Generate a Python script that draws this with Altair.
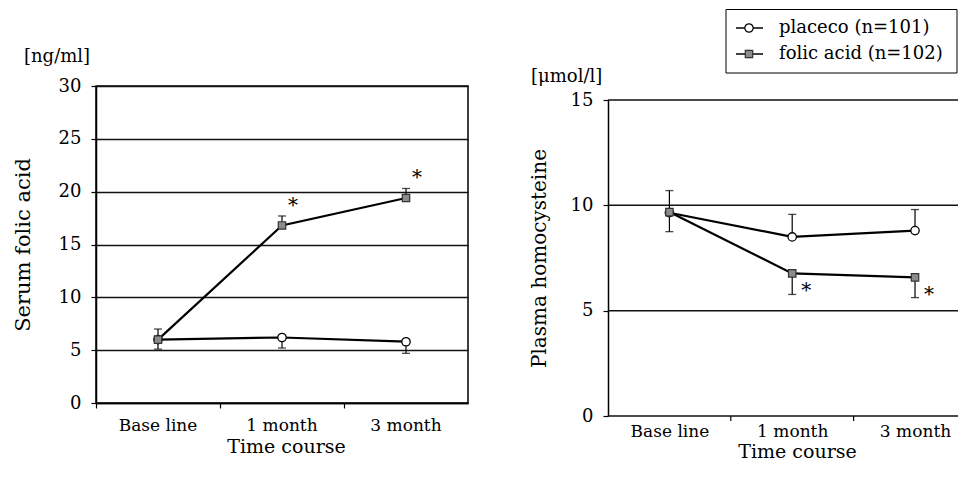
import altair as alt
import pandas as pd

SERIF = "DejaVu Serif"

TIMES = ["Base line", "1 month", "3 month"]
LEGEND_LABELS = ["placeco (n=101)", "folic acid (n=102)"]

# Serum folic acid [ng/ml]
SERUM_PLACEBO = [6.0, 6.2, 5.8]
SERUM_PLACEBO_ERR = [5.1, 5.2, 4.7]
SERUM_FOLIC = [6.0, 16.8, 19.4]
SERUM_FOLIC_ERR = [7.0, 17.7, 20.3]
SERUM_SIG = [False, True, True]
SERUM_TICKS = [0, 5, 10, 15, 20, 25, 30]

# Plasma homocysteine [umol/l]
HCY_PLACEBO = [9.65, 8.5, 8.8]
HCY_PLACEBO_ERR = [10.7, 9.57, 9.8]
HCY_FOLIC = [9.68, 6.77, 6.58]
HCY_FOLIC_ERR = [8.75, 5.77, 5.62]
HCY_SIG = [False, True, True]
HCY_TICKS = [0, 5, 10, 15]


def frame(pl, pl_err, fo, fo_err, sig):
    rows = []
    for i, t in enumerate(TIMES):
        rows.append(dict(time=t, idx=i, group="placebo", value=pl[i], err=pl_err[i], sig=False))
    for i, t in enumerate(TIMES):
        rows.append(dict(time=t, idx=i, group="folic", value=fo[i], err=fo_err[i], sig=sig[i]))
    return pd.DataFrame(rows)


one = pd.DataFrame({"label": LEGEND_LABELS})

X_LABEL_STYLE = dict(labelAngle=0, labelFont=SERIF, labelFontSize=17, labelColor="black",
                     titleFont=SERIF, titleFontSize=19, titleFontWeight="normal",
                     titleColor="black", titleBaseline="middle", titleAlign="center")


def panel(df, x, ticks, ymax, yrange, width, ytitle, y_title_x, y_title_y, y_title_size,
          unit, unit_x, unit_y, ast_dx, ast_dy, inv_x, inv_y, axis_grid):
    ysc = alt.Scale(domain=[0, ymax], nice=False, zero=True)
    if yrange is not None:
        ysc = alt.Scale(domain=[0, ymax], nice=False, zero=True, range=yrange)

    def y(field):
        return alt.Y(field, type="quantitative", scale=ysc,
                     axis=alt.Axis(values=ticks, grid=axis_grid, gridColor="#111", gridWidth=1.5,
                                   domainColor="black", domainWidth=1.5,
                                   tickColor="black", tickSize=5, tickWidth=1.2,
                                   labelFont=SERIF, labelFontSize=18, labelColor="black",
                                   labelPadding=10, title=ytitle, titleFont=SERIF,
                                   titleFontSize=y_title_size, titleFontWeight="normal",
                                   titleColor="black", titleX=y_title_x, titleY=y_title_y,
                                   titleAngle=270, titleBaseline="middle", titleAlign="center"))

    layers = []
    if not axis_grid:
        grid_df = pd.DataFrame({"tick": ticks})
        layers.append(alt.Chart(grid_df).mark_rule(color="#111", strokeWidth=1.5).encode(
            y=y("tick"), x=alt.value(0), x2=alt.value(width)))

    base = alt.Chart(df)
    errs = base.mark_rule(color="black", strokeWidth=1.2).encode(x=x, y=y("value"), y2="err:Q")
    caps = base.mark_tick(color="black", thickness=1.3, size=8, orient="horizontal").encode(
        x=x, y=y("err"))
    lines = base.mark_line(color="black", strokeWidth=2.2).encode(
        x=x, y=y("value"), detail="group:N", order="idx:Q")
    pl_pts = base.transform_filter(alt.datum.group == "placebo").mark_point(
        shape="circle", filled=True, fill="white", stroke="black", strokeWidth=1.3,
        size=70, opacity=1).encode(x=x, y=y("value"))
    fo_pts = base.transform_filter(alt.datum.group == "folic").mark_point(
        shape="square", filled=True, fill="#8c8c8c", stroke="#333", strokeWidth=1.2,
        size=55, opacity=1).encode(x=x, y=y("value"))
    stars = base.transform_filter(alt.datum.sig).mark_text(
        text="*", font=SERIF, fontSize=20, color="black", dx=ast_dx, dy=ast_dy,
        baseline="alphabetic").encode(x=x, y=y("err"))
    unit_txt = alt.Chart(one.head(1)).mark_text(
        text=unit, font=SERIF, fontSize=18, color="black", align="left",
        baseline="middle").encode(x=alt.value(unit_x), y=alt.value(unit_y))
    invisible = alt.Chart(one.head(1)).mark_rule(opacity=0, strokeWidth=1).encode(
        x=alt.value(inv_x), x2=alt.value(inv_x + 1), y=alt.value(inv_y))
    return layers + [errs, caps, lines, pl_pts, fo_pts, stars, unit_txt, invisible], y


serum = frame(SERUM_PLACEBO, SERUM_PLACEBO_ERR, SERUM_FOLIC, SERUM_FOLIC_ERR, SERUM_SIG)
hcy = frame(HCY_PLACEBO, HCY_PLACEBO_ERR, HCY_FOLIC, HCY_FOLIC_ERR, HCY_SIG)

LEFT_W, LEFT_H = 372, 317
RIGHT_W, RIGHT_H = 350, 330

# ---- left panel: band scale, ticks on band boundaries
x_left = alt.X("time:N", sort=TIMES,
               scale=alt.Scale(type="band", paddingInner=0, paddingOuter=0),
               axis=alt.Axis(title="Time course", bandPosition=0, grid=False, domain=True,
                             domainColor="black", domainWidth=1.5, tickColor="black",
                             tickSize=5, tickWidth=1.2, labelPadding=9,
                             titleX=190, titleY=43, **X_LABEL_STYLE))
left_layers, _ = panel(serum, x_left, SERUM_TICKS, 30, None, LEFT_W, "Serum folic acid", -73,
                       LEFT_H / 2, 21, "[ng/ml]", -72, -29, 11, -4, -86.5, -76.5, True)
left = alt.layer(*left_layers).properties(
    width=LEFT_W, height=LEFT_H,
    view=alt.ViewBackground(stroke="black", strokeWidth=1.5))

# ---- right panel: the plot continues past the page edge, so the time positions
# are on a position scale whose last slot is cut off at the right border
label_expr = "[" + ",".join("'" + t + "'" for t in TIMES) + "][datum.value]"
x_right = alt.X("idx:Q",
                scale=alt.Scale(domain=[-0.5, 2.35], nice=False, zero=False),
                axis=alt.Axis(title="Time course", values=[0, 1, 2], labelExpr=label_expr,
                              grid=False, domain=False, ticks=False, labelFlush=False,
                              labelOverlap=False, labelPadding=7, titleX=189, titleY=35,
                              **X_LABEL_STYLE))
right_layers, y_right = panel(hcy, x_right, HCY_TICKS, 15, [RIGHT_H, 14], RIGHT_W,
                              "Plasma homocysteine", -69, 172, 20, "[μmol/l]", -77, -9,
                              14, 3, -81.5, 100, False)

# small tick marks at the slot boundaries of the right x axis
bound_df = pd.DataFrame({"b": [0.5, 1.5]})
right_layers.append(alt.Chart(bound_df).mark_rule(color="black", strokeWidth=1.2).encode(
    x=alt.X("b:Q"), y=alt.value(RIGHT_H), y2=alt.value(RIGHT_H + 5)))

# legend (drawn inside the right panel, above the plot)
legend_parts = [
    alt.Chart(one.head(1)).mark_rect(fill="white", stroke="black", strokeWidth=1).encode(
        x=alt.value(118), x2=alt.value(349), y=alt.value(-76.5), y2=alt.value(-13))
]
legend_rows = [(-58, "circle", "white", "black", 70), (-32, "square", "#8c8c8c", "#333", 55)]
for i, (ly, shp, fill, stroke, size) in enumerate(legend_rows):
    row = one.iloc[[i]]
    legend_parts.append(alt.Chart(row).mark_rule(color="black", strokeWidth=1.5).encode(
        x=alt.value(128), x2=alt.value(155), y=alt.value(ly)))
    legend_parts.append(alt.Chart(row).mark_point(
        shape=shp, filled=True, fill=fill, stroke=stroke, strokeWidth=1.2, size=size,
        opacity=1).encode(x=alt.value(141), y=alt.value(ly)))
    legend_parts.append(alt.Chart(row).mark_text(
        font=SERIF, fontSize=18, color="black", align="left", baseline="middle").encode(
        x=alt.value(171), y=alt.value(ly), text="label:N"))

right = alt.layer(*right_layers, *legend_parts).properties(width=RIGHT_W, height=RIGHT_H)

chart = alt.hconcat(left, right, spacing=57).properties(
    padding=0, background="white"
).configure_view(strokeWidth=0)

chart.save("out.html", embed_options={"renderer": "svg", "actions": False})
